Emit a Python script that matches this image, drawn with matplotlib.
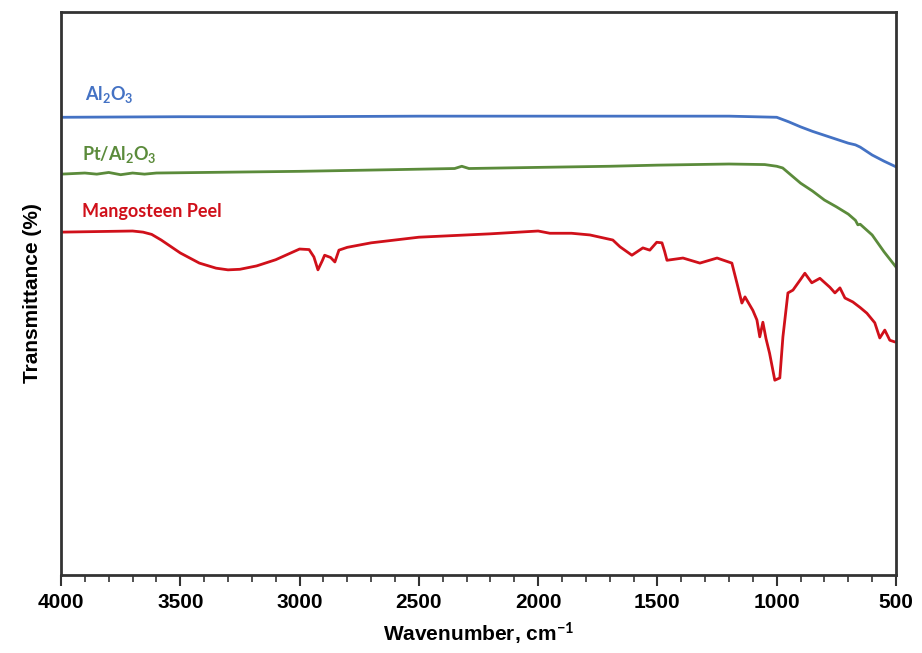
import matplotlib
matplotlib.use("Agg")
import matplotlib.pyplot as plt
from matplotlib.ticker import MultipleLocator

# Wavenumber (cm^-1) and transmittance (arbitrary %)
al2o3_wn = [4000, 3500, 3000, 2500, 2000, 1500, 1200, 1000, 950, 900, 850, 800, 750, 700, 670, 650, 600, 550, 500]
al2o3_t = [81.3, 81.4, 81.4, 81.5, 81.5, 81.5, 81.5, 81.3, 80.5, 79.6, 78.8, 78.1, 77.4, 76.7, 76.4, 76.0, 74.6, 73.5, 72.5]

pt_wn = [4000, 3900, 3850, 3800, 3750, 3700, 3650, 3600, 3400, 3000, 2600, 2350, 2320, 2290, 2000, 1700,
         1500, 1200, 1050, 1000, 975, 950, 900, 850, 800, 750, 700, 670, 660, 650, 600, 550, 500]
pt_t = [71.2, 71.4, 71.2, 71.5, 71.1, 71.4, 71.2, 71.4, 71.5, 71.7, 72.0, 72.2, 72.6, 72.2, 72.4, 72.6,
        72.8, 73.0, 72.9, 72.6, 72.3, 71.4, 69.6, 68.2, 66.6, 65.4, 64.1, 63.0, 62.2, 62.3, 60.4, 57.4, 54.7]

mp_wn = [4000, 3850, 3700, 3656, 3620, 3580, 3500, 3420, 3350, 3300, 3250, 3180, 3100, 3000, 2960, 2940,
         2923, 2905, 2895, 2870, 2852, 2835, 2800, 2700, 2500, 2200, 2000, 1951, 1860, 1783, 1687, 1657,
         1607, 1561, 1532, 1503, 1481, 1470, 1460, 1393, 1322, 1250, 1188, 1167, 1146, 1133, 1100, 1083,
         1071, 1058, 1045, 1030, 1008, 987, 974, 953, 932, 900, 882, 853, 819, 777, 756, 735, 714, 681,
         650, 622, 589, 568, 547, 526, 505, 500]
mp_t = [60.9, 61.0, 61.1, 60.9, 60.5, 59.5, 57.2, 55.4, 54.5, 54.2, 54.3, 54.9, 56.0, 57.9, 57.8, 56.5,
        54.2, 55.8, 56.8, 56.4, 55.6, 57.7, 58.2, 59.0, 60.0, 60.6, 61.1, 60.7, 60.7, 60.4, 59.5, 58.3,
        56.8, 58.1, 57.7, 59.1, 59.0, 57.5, 55.9, 56.3, 55.4, 56.3, 55.4, 51.9, 48.3, 49.4, 47.0, 45.3,
        42.3, 44.9, 42.0, 39.4, 34.6, 35.0, 42.3, 50.1, 50.6, 52.5, 53.6, 51.9, 52.7, 51.1, 50.1, 51.0,
        49.2, 48.5, 47.5, 46.5, 44.8, 42.1, 43.5, 41.7, 41.4, 41.4]

series_labels = ["Al$_2$O$_3$", "Pt/Al$_2$O$_3$", "Mangosteen Peel"]
x_ticks = [4000, 3500, 3000, 2500, 2000, 1500, 1000, 500]

fam = ["Liberation Sans Narrow", "Liberation Sans", "DejaVu Sans"]
plt.rcParams["font.family"] = fam
plt.rcParams["mathtext.fontset"] = "custom"
plt.rcParams["mathtext.rm"] = "Lato:bold"
plt.rcParams["mathtext.it"] = "Lato:bold"

fig = plt.figure(figsize=(9.22, 6.53), dpi=100)
ax = fig.add_axes([61 / 922, 78 / 653, 835 / 922, 563 / 653])

blue, green, red = "#4472C4", "#5B8B3B", "#D0101A"
ax.plot(al2o3_wn, al2o3_t, color=blue, lw=2)
ax.plot(pt_wn, pt_t, color=green, lw=2)
ax.plot(mp_wn, mp_t, color=red, lw=2)

ax.set_xlim(4000, 500)
ax.set_ylim(0, 100)
ax.set_xticks(x_ticks)
ax.xaxis.set_minor_locator(MultipleLocator(100))
ax.set_yticks([])
ax.tick_params(axis="x", which="major", direction="out", length=8, width=1.5, color="#333333",
               labelsize=15, pad=5)
ax.tick_params(axis="x", which="minor", direction="out", length=5, width=1.2, color="#333333")
for lab in ax.get_xticklabels():
    lab.set_fontweight("bold")
for s in ax.spines.values():
    s.set_linewidth(2)
    s.set_color("#333333")

ax.set_xlabel("Wavenumber, cm$^{-1}$", fontsize=15, fontweight="bold", labelpad=6)
ax.set_ylabel("Transmittance (%)", fontsize=15, fontweight="bold", labelpad=14)

ax.text(3900, 84.3, series_labels[0], color=blue, fontsize=13, fontweight="bold", family="Lato")
ax.text(3910, 73.8, series_labels[1], color=green, fontsize=13, fontweight="bold", family="Lato")
ax.text(3910, 63.5, series_labels[2], color=red, fontsize=13, fontweight="bold", family="Lato")

fig.savefig("out.png", dpi=100)
